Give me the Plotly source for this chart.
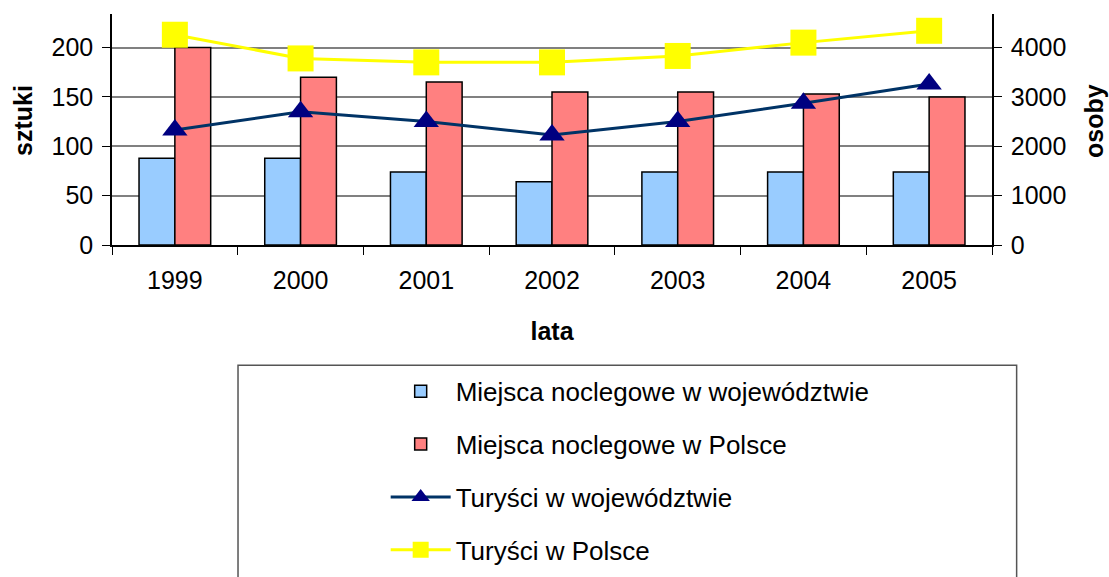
import plotly.graph_objects as go

# dane
lata = ["1999", "2000", "2001", "2002", "2003", "2004", "2005"]
miejsca_woj = [88, 88, 74, 64, 74, 74, 74]
miejsca_pl = [200, 170, 165, 155, 155, 153, 150]
turysci_woj = [2330, 2700, 2500, 2230, 2500, 2870, 3260]
turysci_pl = [4260, 3780, 3700, 3700, 3830, 4100, 4340]

czcionka = "Liberation Sans, Arial, sans-serif"

fig = go.Figure()

fig.add_trace(go.Bar(x=lata, y=miejsca_woj, name="Miejsca noclegowe w województwie",
                     marker=dict(color="#99CCFF", line=dict(color="black", width=1.5)),
                     legendgroup="a"))
fig.add_trace(go.Bar(x=lata, y=miejsca_pl, name="Miejsca noclegowe w Polsce",
                     marker=dict(color="#FF8080", line=dict(color="black", width=1.5)),
                     legendgroup="b"))
fig.add_trace(go.Scatter(x=lata, y=turysci_woj, name="Turyści w województwie", yaxis="y2",
                         mode="lines+markers",
                         line=dict(color="#003366", width=3),
                         marker=dict(symbol="triangle-up", size=22, color="#000080"),
                         legendgroup="c"))
fig.add_trace(go.Scatter(x=lata, y=turysci_pl, name="Turyści w Polsce", yaxis="y2",
                         mode="lines+markers",
                         line=dict(color="#FFFF00", width=3),
                         marker=dict(symbol="square", size=26, color="#FFFF00"),
                         legendgroup="d"))

tytul = dict(family=czcionka, size=25, color="black")

fig.update_layout(
    width=1109, height=577,
    margin=dict(l=112, r=117, t=14, b=332, autoexpand=False),
    paper_bgcolor="white", plot_bgcolor="white",
    font=dict(family=czcionka, size=25, color="black"),
    barmode="group", bargap=0.43, bargroupgap=0,
    xaxis=dict(
        automargin=False,
        showline=True, linecolor="black", linewidth=1.5,
        ticks="outside", ticklen=8, tickcolor="black", tickson="boundaries",
        ticklabelstandoff=12,
        title=dict(text="<b>lata</b>", standoff=30, font=tytul),
    ),
    yaxis=dict(
        automargin=False,
        range=[0, 234], dtick=50,
        showline=True, linecolor="black", linewidth=1.5,
        ticks="outside", ticklen=8, tickcolor="black",
        showgrid=True, gridcolor="#808080", gridwidth=1.5,
        zeroline=False, ticklabelstandoff=4,
    ),
    yaxis2=dict(
        automargin=False,
        range=[0, 4680], dtick=1000, overlaying="y", side="right",
        showline=True, linecolor="black", linewidth=1.5,
        ticks="outside", ticklen=8, tickcolor="black",
        showgrid=False, zeroline=False, ticklabelstandoff=4,
    ),
    legend=dict(
        x=0.311, y=-0.532, xanchor="left", yanchor="top",
        bgcolor="rgba(0,0,0,0)", borderwidth=0,
        font=dict(size=26), traceorder="grouped", tracegroupgap=16,
        itemwidth=60,
    ),
    annotations=[
        dict(text="<b>sztuki</b>", xref="paper", yref="paper", x=-0.1011, y=0.537,
             textangle=-90, showarrow=False, xanchor="center", yanchor="middle", font=tytul),
        dict(text="<b>osoby</b>", xref="paper", yref="paper", x=1.1159, y=0.537,
             textangle=-90, showarrow=False, xanchor="center", yanchor="middle", font=tytul),
    ],
    shapes=[dict(type="rect", xref="paper", yref="paper",
                 x0=0.1432, x1=1.028, y0=-0.5205, y1=-1.6,
                 line=dict(color="#555555", width=1.5), fillcolor="rgba(0,0,0,0)",
                 layer="below")],
)

# bez domyslnego marginesu strony, zeby wykres zaczynal sie w (0, 0)
fig.write_html("out.html", config={"displayModeBar": False},
               post_script="document.body.style.margin='0';")
